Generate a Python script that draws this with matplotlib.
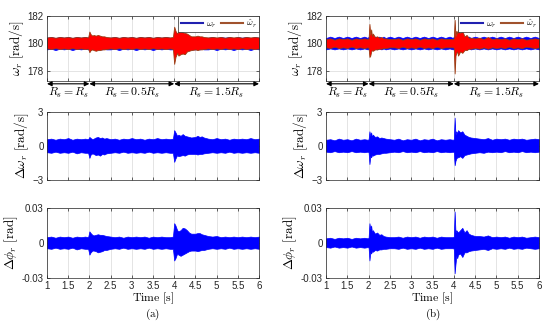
import numpy as np
import matplotlib
matplotlib.use('Agg')
import matplotlib.pyplot as plt

plt.rcParams['font.family'] = ['Liberation Sans', 'DejaVu Sans']
plt.rcParams['mathtext.fontset'] = 'cm'

# ---------------- column (a) ----------------
t_a = [1.0, 1.1, 1.2, 1.3, 1.4, 1.5, 1.6, 1.7, 1.8, 1.9,
       1.97, 2.0, 2.03, 2.07,
       2.1, 2.15, 2.2, 2.25, 2.3, 2.35, 2.4,
       2.5, 2.6, 2.7, 2.8, 2.9, 3.0, 3.1, 3.2, 3.3, 3.4, 3.5, 3.6, 3.7, 3.8, 3.9,
       3.97, 4.0, 4.03, 4.07,
       4.1, 4.15, 4.2, 4.25, 4.3, 4.35, 4.4,
       4.5, 4.55, 4.6, 4.65, 4.7,
       4.8, 4.9, 5.0, 5.1, 5.2, 5.3, 5.4, 5.5, 5.6, 5.7, 5.8, 5.9, 6.0]

# true speed (offset from 180 rad/s)
wr_up_a = [0.4, 0.45, 0.38, 0.45, 0.4, 0.45, 0.38, 0.45, 0.4, 0.45,
           0.4, 0.45, 0.4, 0.45,
           0.4, 0.45, 0.4, 0.45, 0.4, 0.45, 0.4,
           0.4, 0.45, 0.38, 0.45, 0.4, 0.45, 0.38, 0.45, 0.4, 0.45, 0.38, 0.45, 0.4, 0.45, 0.4,
           0.4, 0.45, 0.4, 0.45,
           0.4, 0.45, 0.4, 0.45, 0.4, 0.45, 0.4,
           0.4, 0.45, 0.4, 0.45, 0.4,
           0.4, 0.45, 0.38, 0.45, 0.4, 0.45, 0.38, 0.45, 0.4, 0.45, 0.38, 0.45, 0.4]
wr_lo_a = [-0.45, -0.4, -0.5, -0.4, -0.45, -0.4, -0.5, -0.4, -0.45, -0.4,
           -0.45, -0.4, -0.45, -0.4,
           -0.45, -0.4, -0.45, -0.4, -0.45, -0.4, -0.45,
           -0.45, -0.4, -0.5, -0.4, -0.45, -0.4, -0.5, -0.4, -0.45, -0.4, -0.5, -0.4, -0.45, -0.4, -0.45,
           -0.45, -0.4, -0.45, -0.4,
           -0.45, -0.4, -0.45, -0.4, -0.45, -0.4, -0.45,
           -0.45, -0.4, -0.45, -0.4, -0.45,
           -0.45, -0.4, -0.5, -0.4, -0.45, -0.4, -0.5, -0.4, -0.45, -0.4, -0.5, -0.4, -0.45]
# estimated speed (offset from 180 rad/s)
we_up_a = [0.42, 0.45, 0.4, 0.45, 0.42, 0.45, 0.4, 0.45, 0.42, 0.45,
           0.42, 0.85, 0.65, 0.55,
           0.6, 0.55, 0.6, 0.55, 0.5, 0.5, 0.45,
           0.42, 0.45, 0.4, 0.45, 0.42, 0.45, 0.4, 0.45, 0.42, 0.45, 0.4, 0.45, 0.42, 0.45, 0.42,
           0.45, 1.2, 0.9, 0.7,
           0.85, 0.9, 0.8, 0.75, 0.7, 0.6, 0.5,
           0.5, 0.55, 0.5, 0.5, 0.45,
           0.42, 0.45, 0.42, 0.45, 0.4, 0.45, 0.42, 0.45, 0.4, 0.45, 0.42, 0.45, 0.42]
we_lo_a = [-0.38, -0.42, -0.36, -0.42, -0.38, -0.42, -0.36, -0.42, -0.38, -0.42,
           -0.4, -0.65, -0.5, -0.45,
           -0.5, -0.55, -0.5, -0.5, -0.45, -0.45, -0.42,
           -0.38, -0.42, -0.36, -0.42, -0.38, -0.42, -0.36, -0.42, -0.38, -0.42, -0.36, -0.42, -0.38, -0.42, -0.38,
           -0.42, -1.5, -1.0, -0.7,
           -0.9, -0.8, -0.75, -0.8, -0.6, -0.55, -0.5,
           -0.45, -0.5, -0.45, -0.45, -0.42,
           -0.38, -0.42, -0.38, -0.42, -0.36, -0.42, -0.38, -0.42, -0.36, -0.42, -0.38, -0.42, -0.38]
# speed error [rad/s]
dw_up_a = [0.6, 0.65, 0.55, 0.65, 0.6, 0.7, 0.55, 0.65, 0.6, 0.65,
           0.6, 0.8, 0.7, 0.6,
           0.65, 0.75, 0.8, 0.7, 0.75, 0.65, 0.7,
           0.6, 0.65, 0.55, 0.65, 0.6, 0.7, 0.6, 0.65, 0.55, 0.65, 0.6, 0.7, 0.6, 0.65, 0.6,
           0.65, 1.4, 1.2, 0.9,
           1.0, 0.9, 1.05, 0.9, 0.85, 0.8, 0.75,
           0.8, 0.9, 0.8, 0.85, 0.75,
           0.65, 0.6, 0.7, 0.6, 0.65, 0.55, 0.65, 0.6, 0.65, 0.6, 0.7, 0.6, 0.65]
dw_lo_a = [-0.55, -0.6, -0.5, -0.6, -0.55, -0.6, -0.5, -0.65, -0.55, -0.6,
           -0.6, -1.05, -0.75, -0.65,
           -0.7, -0.8, -0.75, -0.85, -0.7, -0.75, -0.65,
           -0.6, -0.55, -0.6, -0.5, -0.6, -0.55, -0.6, -0.55, -0.6, -0.5, -0.6, -0.55, -0.6, -0.55, -0.6,
           -0.6, -1.4, -1.1, -0.8,
           -0.9, -0.85, -0.8, -0.85, -0.75, -0.7, -0.7,
           -0.7, -0.75, -0.7, -0.7, -0.65,
           -0.6, -0.55, -0.6, -0.55, -0.6, -0.5, -0.6, -0.55, -0.6, -0.55, -0.6, -0.55, -0.6]
# position error [mrad]
dp_up_a = [5, 5.5, 4.5, 5.5, 5, 5.5, 4.5, 5.5, 5, 5.5,
           5, 10, 8.5, 7,
           6.5, 7, 7.5, 7, 7, 6.5, 6,
           5.5, 5, 5.5, 4.5, 5.5, 5, 5.5, 5, 5.5, 4.5, 5.5, 5, 5.5, 5, 5,
           5.5, 17, 15, 11,
           10, 11, 13, 12.5, 11, 9, 8,
           8, 8.5, 8.5, 7.5, 7,
           6, 5.5, 6, 5, 5.5, 5, 5.5, 5, 5.5, 5, 5.5, 5, 5.5]
dp_lo_a = [-4.5, -5, -4, -5, -4.5, -5, -4, -5.5, -4.5, -5,
           -5, -10, -8, -6.5,
           -6.5, -7, -8, -7.5, -7, -6, -6,
           -5, -4.5, -5, -4, -5, -4.5, -5, -4.5, -5, -4, -5, -4.5, -5, -4.5, -5,
           -5, -15, -13, -9,
           -10, -11, -10, -9, -8, -7, -6.5,
           -6.5, -7, -6.5, -6, -6,
           -5, -4.5, -5, -4.5, -5, -4, -5, -4.5, -5, -4.5, -5, -4.5, -5]

# ---------------- column (b) ----------------
t_b = [1.0, 1.1, 1.2, 1.3, 1.4, 1.5, 1.6, 1.7, 1.8, 1.9,
       1.98, 2.0, 2.02, 2.04, 2.06, 2.08, 2.1, 2.15, 2.2, 2.25, 2.3, 2.35, 2.4, 2.5,
       2.6, 2.7, 2.8, 2.9, 3.0, 3.1, 3.2, 3.3, 3.4, 3.5, 3.6, 3.7, 3.8, 3.9,
       3.98, 4.0, 4.02, 4.04, 4.06, 4.08, 4.1, 4.15, 4.2, 4.25, 4.3, 4.35, 4.4, 4.5,
       4.6, 4.7, 4.8, 4.9, 5.0, 5.1, 5.2, 5.3, 5.4, 5.5, 5.6, 5.7, 5.8, 5.9, 6.0]

wr_up_b = [0.38, 0.48, 0.38, 0.48, 0.38, 0.48, 0.38, 0.48, 0.38, 0.48,
           0.38, 0.48, 0.38, 0.48, 0.38, 0.48, 0.38, 0.48, 0.38, 0.48, 0.38, 0.48, 0.38, 0.48,
           0.38, 0.48, 0.38, 0.48, 0.38, 0.48, 0.38, 0.48, 0.38, 0.48, 0.38, 0.48, 0.38, 0.48,
           0.38, 0.48, 0.38, 0.48, 0.38, 0.48, 0.38, 0.48, 0.38, 0.48, 0.38, 0.48, 0.38, 0.48,
           0.38, 0.48, 0.38, 0.48, 0.38, 0.48, 0.38, 0.48, 0.38, 0.48, 0.38, 0.48, 0.38, 0.48, 0.38]
wr_lo_b = [-0.45, -0.38, -0.45, -0.38, -0.45, -0.38, -0.45, -0.38, -0.45, -0.38,
           -0.45, -0.38, -0.45, -0.38, -0.45, -0.38, -0.45, -0.38, -0.45, -0.38, -0.45, -0.38, -0.45, -0.38,
           -0.45, -0.38, -0.45, -0.38, -0.45, -0.38, -0.45, -0.38, -0.45, -0.38, -0.45, -0.38, -0.45, -0.38,
           -0.45, -0.38, -0.45, -0.38, -0.45, -0.38, -0.45, -0.38, -0.45, -0.38, -0.45, -0.38, -0.45, -0.38,
           -0.45, -0.38, -0.45, -0.38, -0.45, -0.38, -0.45, -0.38, -0.45, -0.38, -0.45, -0.38, -0.45, -0.38, -0.45]
we_up_b = [0.3, 0.35, 0.25, 0.35, 0.3, 0.35, 0.25, 0.35, 0.3, 0.35,
           0.3, 0.35, 1.4, 0.6, 1.0, 0.5, 0.7, 0.45, 0.5, 0.4, 0.45, 0.35, 0.35, 0.3,
           0.3, 0.35, 0.25, 0.35, 0.3, 0.35, 0.25, 0.35, 0.3, 0.35, 0.25, 0.35, 0.3, 0.3,
           0.3, 0.35, 1.7, 0.5, 0.9, 0.7, 1.0, 0.75, 0.9, 0.5, 0.6, 0.4, 0.4, 0.35,
           0.4, 0.3, 0.45, 0.3, 0.35, 0.3, 0.35, 0.25, 0.35, 0.3, 0.35, 0.25, 0.3, 0.35, 0.3]
we_lo_b = [-0.3, -0.35, -0.25, -0.35, -0.3, -0.35, -0.25, -0.35, -0.3, -0.35,
           -0.3, -0.35, -1.0, -0.9, -0.6, -0.5, -0.55, -0.45, -0.45, -0.4, -0.4, -0.35, -0.35, -0.3,
           -0.3, -0.35, -0.25, -0.35, -0.3, -0.35, -0.25, -0.35, -0.3, -0.35, -0.25, -0.35, -0.3, -0.3,
           -0.3, -0.35, -2.2, -0.9, -0.7, -0.6, -0.9, -0.6, -0.7, -0.5, -0.5, -0.4, -0.4, -0.35,
           -0.4, -0.3, -0.4, -0.3, -0.35, -0.3, -0.35, -0.25, -0.35, -0.3, -0.35, -0.25, -0.3, -0.35, -0.3]
dw_up_b = [0.55, 0.6, 0.5, 0.65, 0.55, 0.6, 0.5, 0.65, 0.55, 0.6,
           0.55, 0.6, 1.3, 0.9, 1.2, 0.8, 1.0, 0.8, 0.85, 0.7, 0.75, 0.7, 0.65, 0.6,
           0.55, 0.65, 0.5, 0.6, 0.55, 0.65, 0.5, 0.6, 0.55, 0.65, 0.5, 0.6, 0.55, 0.6,
           0.55, 0.6, 2.5, 1.0, 1.3, 1.1, 1.4, 1.2, 1.3, 1.0, 0.9, 0.8, 0.75, 0.7,
           0.65, 0.6, 0.7, 0.55, 0.65, 0.6, 0.65, 0.55, 0.65, 0.6, 0.65, 0.55, 0.6, 0.65, 0.6]
dw_lo_b = [-0.5, -0.55, -0.45, -0.55, -0.5, -0.55, -0.45, -0.55, -0.5, -0.55,
           -0.5, -0.55, -1.6, -0.9, -1.0, -0.8, -0.85, -0.75, -0.7, -0.7, -0.65, -0.6, -0.6, -0.55,
           -0.5, -0.55, -0.45, -0.55, -0.5, -0.55, -0.45, -0.55, -0.5, -0.55, -0.45, -0.55, -0.5, -0.55,
           -0.5, -0.55, -1.7, -1.3, -1.1, -1.0, -1.0, -0.9, -1.05, -0.8, -0.75, -0.7, -0.65, -0.6,
           -0.55, -0.6, -0.5, -0.55, -0.5, -0.55, -0.45, -0.55, -0.5, -0.55, -0.45, -0.55, -0.5, -0.55, -0.5]
dp_up_b = [4, 4.5, 3.5, 4.5, 4, 4.5, 3.5, 4.5, 4, 4.5,
           4, 4.5, 17, 12, 15, 9, 11, 8, 9, 7, 7.5, 6, 5.5, 5,
           5, 5.5, 4.5, 5.5, 5, 5.5, 4.5, 5.5, 5, 5.5, 4.5, 5.5, 5, 5,
           5, 5.5, 27, 9, 11, 10, 9, 11, 13, 9, 11, 8, 7, 6,
           6, 5.5, 6.5, 5, 5.5, 5, 5.5, 4.5, 5.5, 5, 5.5, 4.5, 5, 5.5, 5]
dp_lo_b = [-3.5, -4, -3, -4, -3.5, -4, -3, -4, -3.5, -4,
           -3.5, -4, -15, -8, -9, -7, -7.5, -6, -6.5, -5.5, -5.5, -5, -5, -4.5,
           -4.5, -5, -4, -5, -4.5, -5, -4, -5, -4.5, -5, -4, -5, -4.5, -4.5,
           -4.5, -5, -26, -18, -11, -13, -10, -9, -12, -8, -8, -7, -6.5, -6,
           -5.5, -5, -6, -4.5, -5, -4.5, -5, -4, -5, -4.5, -5, -4, -4.5, -5, -4.5]

w_ref = 180.0
regions = [(1, 2, r'$R_s = R_s$'), (2, 4, r'$R_s = 0.5R_s$'), (4, 6, r'$R_s = 1.5R_s$')]
xticks = [1, 1.5, 2, 2.5, 3, 3.5, 4, 4.5, 5, 5.5, 6]
xticklabels = ['1', '1.5', '2', '2.5', '3', '3.5', '4', '4.5', '5', '5.5', '6']

BLUE = '#0000ff'
RED = '#ff0000'
BROWN = '#9a3d12'

W, H = 550, 326
fig = plt.figure(figsize=(W / 100, H / 100), dpi=100)


def px_axes(x0, x1, y0, y1):
    return fig.add_axes([x0 / W, 1 - y1 / H, (x1 - x0) / W, (y1 - y0) / H])


def style(ax):
    ax.set_xlim(1, 6)
    ax.set_xticks(xticks)
    ax.grid(True, color='#d9d9d9', lw=0.5)
    ax.set_axisbelow(True)
    ax.tick_params(direction='in', length=2, width=0.5, labelsize=7, pad=2.5,
                   top=True, right=True, colors='#262626')
    for s in ax.spines.values():
        s.set_color('#262626')
        s.set_linewidth(0.5)


def column(x0, x1, t, wr_up, wr_lo, we_up, we_lo, dw_up, dw_lo, dp_up, dp_lo, tag):
    t = np.array(t)
    # speed
    ax = px_axes(x0, x1, 15.7, 80.5)
    style(ax)
    ax.fill_between(t, w_ref + np.array(wr_lo), w_ref + np.array(wr_up),
                    facecolor=BLUE, edgecolor=BLUE, lw=0.5)
    ax.fill_between(t, w_ref + np.array(we_lo), w_ref + np.array(we_up),
                    facecolor=RED, edgecolor=BROWN, lw=0.6)
    ax.plot([], [], color='#2020b0', lw=1.5, label=r'$\omega_r$')
    ax.plot([], [], color='#a0522d', lw=1.5, label=r'$\hat{\omega}_r$')
    ax.set_ylim(177.29, 182)
    ax.set_yticks([178, 180, 182])
    ax.set_xticklabels([])
    ax.set_ylabel(r'$\omega_r\ \mathrm{[rad/s]}$', fontsize=9.5, labelpad=1)
    leg = ax.legend(loc='upper right', ncol=2, fontsize=6.5, handlelength=2.5,
                    columnspacing=0.5, handletextpad=0.3, borderpad=0.25,
                    borderaxespad=0.0, fancybox=False, framealpha=1)
    leg.get_frame().set_linewidth(0.5)
    leg.get_frame().set_edgecolor('#262626')
    for a, b, lab in regions:
        ax.annotate('', xy=(a, 177.05), xytext=(b, 177.05), annotation_clip=False,
                    arrowprops=dict(arrowstyle='<|-|>', color='black', lw=0.8,
                                    mutation_scale=7, shrinkA=0, shrinkB=0))
        ax.text((a + b) / 2, 176.4, lab, ha='center', va='center', fontsize=8.5,
                clip_on=False)

    # speed error
    ax = px_axes(x0, x1, 112, 180)
    style(ax)
    ax.fill_between(t, dw_lo, dw_up, facecolor=BLUE, edgecolor=BLUE, lw=0.5)
    ax.set_ylim(-3, 3)
    ax.set_yticks([-3, 0, 3])
    ax.set_xticklabels([])
    ax.set_ylabel(r'$\Delta\omega_r\ \mathrm{[rad/s]}$', fontsize=9.5, labelpad=1)

    # position error
    ax = px_axes(x0, x1, 208, 278)
    style(ax)
    ax.fill_between(t, np.array(dp_lo) * 1e-3, np.array(dp_up) * 1e-3,
                    facecolor=BLUE, edgecolor=BLUE, lw=0.5)
    ax.set_ylim(-0.03, 0.03)
    ax.set_yticks([-0.03, 0, 0.03])
    ax.set_yticklabels(['-0.03', '0', '0.03'])
    ax.set_xticklabels(xticklabels)
    ax.set_ylabel(r'$\Delta\phi_r\ \mathrm{[rad]}$', fontsize=9.5, labelpad=1)
    xc = (x0 + x1) / 2 / W
    fig.text(xc, 1 - 298 / H, r'$\mathrm{Time\ [s]}$', ha='center', va='center', fontsize=8.5)
    fig.text(xc, 1 - 314 / H, r'$\mathrm{(' + tag + ')}$', ha='center', va='center', fontsize=8)


column(47, 259, t_a, wr_up_a, wr_lo_a, we_up_a, we_lo_a, dw_up_a, dw_lo_a, dp_up_a, dp_lo_a, 'a')
column(326, 539, t_b, wr_up_b, wr_lo_b, we_up_b, we_lo_b, dw_up_b, dw_lo_b, dp_up_b, dp_lo_b, 'b')

fig.savefig('out.png', dpi=100)
